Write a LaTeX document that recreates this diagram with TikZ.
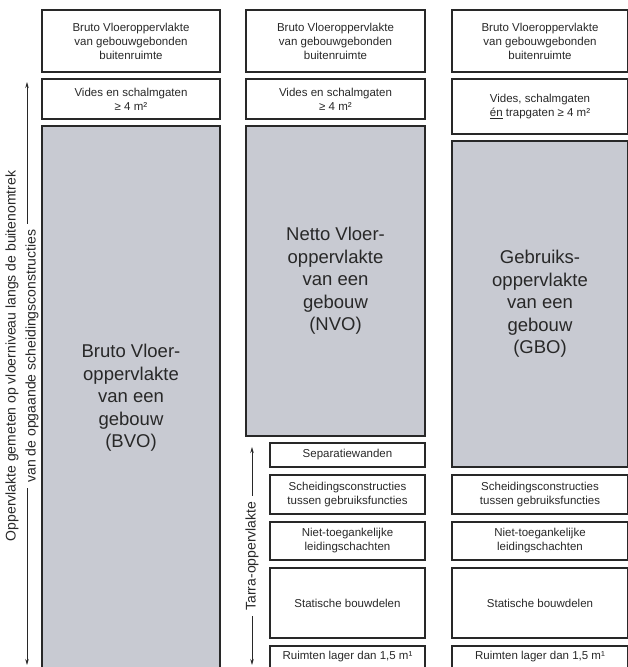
\documentclass[tikz,border=0pt]{standalone}
\usepackage{fontspec}
\setmainfont{Liberation Sans}
\usetikzlibrary{arrows.meta}
\definecolor{vlak}{RGB}{200,202,210}
\definecolor{rand}{RGB}{40,40,40}
\tikzset{
  vak/.style={draw=rand, line width=1.3pt, inner sep=0pt, align=center, text=rand,
    font=\fontsize{11.5}{14}\selectfont},
  groot/.style={vak, fill=vlak, font=\fontsize{18.5}{22.5}\selectfont},
  pijl/.style={{Stealth[length=6pt,width=3.5pt]}-{Stealth[length=6pt,width=3.5pt]},
    line width=0.8pt, draw=rand},
  zij/.style={rotate=90, text=rand, inner xsep=6pt, inner ysep=1pt,
    font=\fontsize{14}{20}\selectfont},
}
\begin{document}
\begin{tikzpicture}[x=1pt, y=-1pt]
\useasboundingbox (0,0) rectangle (627,667);

\node[vak, minimum width=178, minimum height=62] (b1) at (131,41) {Bruto Vloeroppervlakte\\van gebouwgebonden\\buitenruimte};
\node[vak, minimum width=178, minimum height=40] (v1) at (131,99) {Vides en schalmgaten\\≥ 4 m²};
\node[groot, minimum width=178, minimum height=544] (bvo) at (131,398) {Bruto Vloer-\\oppervlakte\\van een\\gebouw\\(BVO)};

\node[vak, minimum width=179, minimum height=62] (b2) at (335.5,41) {Bruto Vloeroppervlakte\\van gebouwgebonden\\buitenruimte};
\node[vak, minimum width=179, minimum height=40] (v2) at (335.5,99) {Vides en schalmgaten\\≥ 4 m²};
\node[groot, minimum width=179, minimum height=310] (nvo) at (335.5,281) {Netto Vloer-\\oppervlakte\\van een\\gebouw\\(NVO)};
\node[vak, minimum width=155, minimum height=24] (sep) at (347.5,455) {Separatiewanden};
\node[vak, minimum width=155, minimum height=39] (sc2) at (347.5,494.5) {Scheidingsconstructies\\tussen gebruiksfuncties};
\node[vak, minimum width=155, minimum height=38] (nt2) at (347.5,541) {Niet-toegankelijke\\leidingschachten};
\node[vak, minimum width=155, minimum height=70] (st2) at (347.5,603) {Statische bouwdelen};
\node[vak, minimum width=155, minimum height=22] (ru2) at (347.5,657) {Ruimten lager dan 1,5 m¹};

\node[vak, minimum width=176, minimum height=62] (b3) at (540,41) {Bruto Vloeroppervlakte\\van gebouwgebonden\\buitenruimte};
\node[vak, minimum width=176, minimum height=55] (v3) at (540,106.5) {Vides, schalmgaten\\\underline{én} trapgaten ≥ 4 m²};
\node[groot, minimum width=176, minimum height=326] (gbo) at (540,304) {Gebruiks-\\oppervlakte\\van een\\gebouw\\(GBO)};
\node[vak, minimum width=176, minimum height=39] (sc3) at (540,494.5) {Scheidingsconstructies\\tussen gebruiksfuncties};
\node[vak, minimum width=176, minimum height=38] (nt3) at (540,541) {Niet-toegankelijke\\leidingschachten};
\node[vak, minimum width=176, minimum height=70] (st3) at (540,603) {Statische bouwdelen};
\node[vak, minimum width=176, minimum height=22] (ru3) at (540,657) {Ruimten lager dan 1,5 m¹};

\coordinate (bvoOnder) at (27,665);
\coordinate (bvoBoven) at (27,82);
\draw[pijl] (bvoOnder) -- (bvoBoven);
\node[zij, fill=white] (omtrek2) at (32,356) {van de opgaande scheidingsconstructies};
\node[zij] (omtrek1) at (12,356) {Oppervlakte gemeten op vloerniveau langs de buitenomtrek};

\coordinate (tarraOnder) at (252,665);
\coordinate (tarraBoven) at (252,447);
\draw[pijl] (tarraOnder) -- node[zij, fill=white] (tarra) {Tarra-oppervlakte} (tarraBoven);
\end{tikzpicture}
\end{document}
